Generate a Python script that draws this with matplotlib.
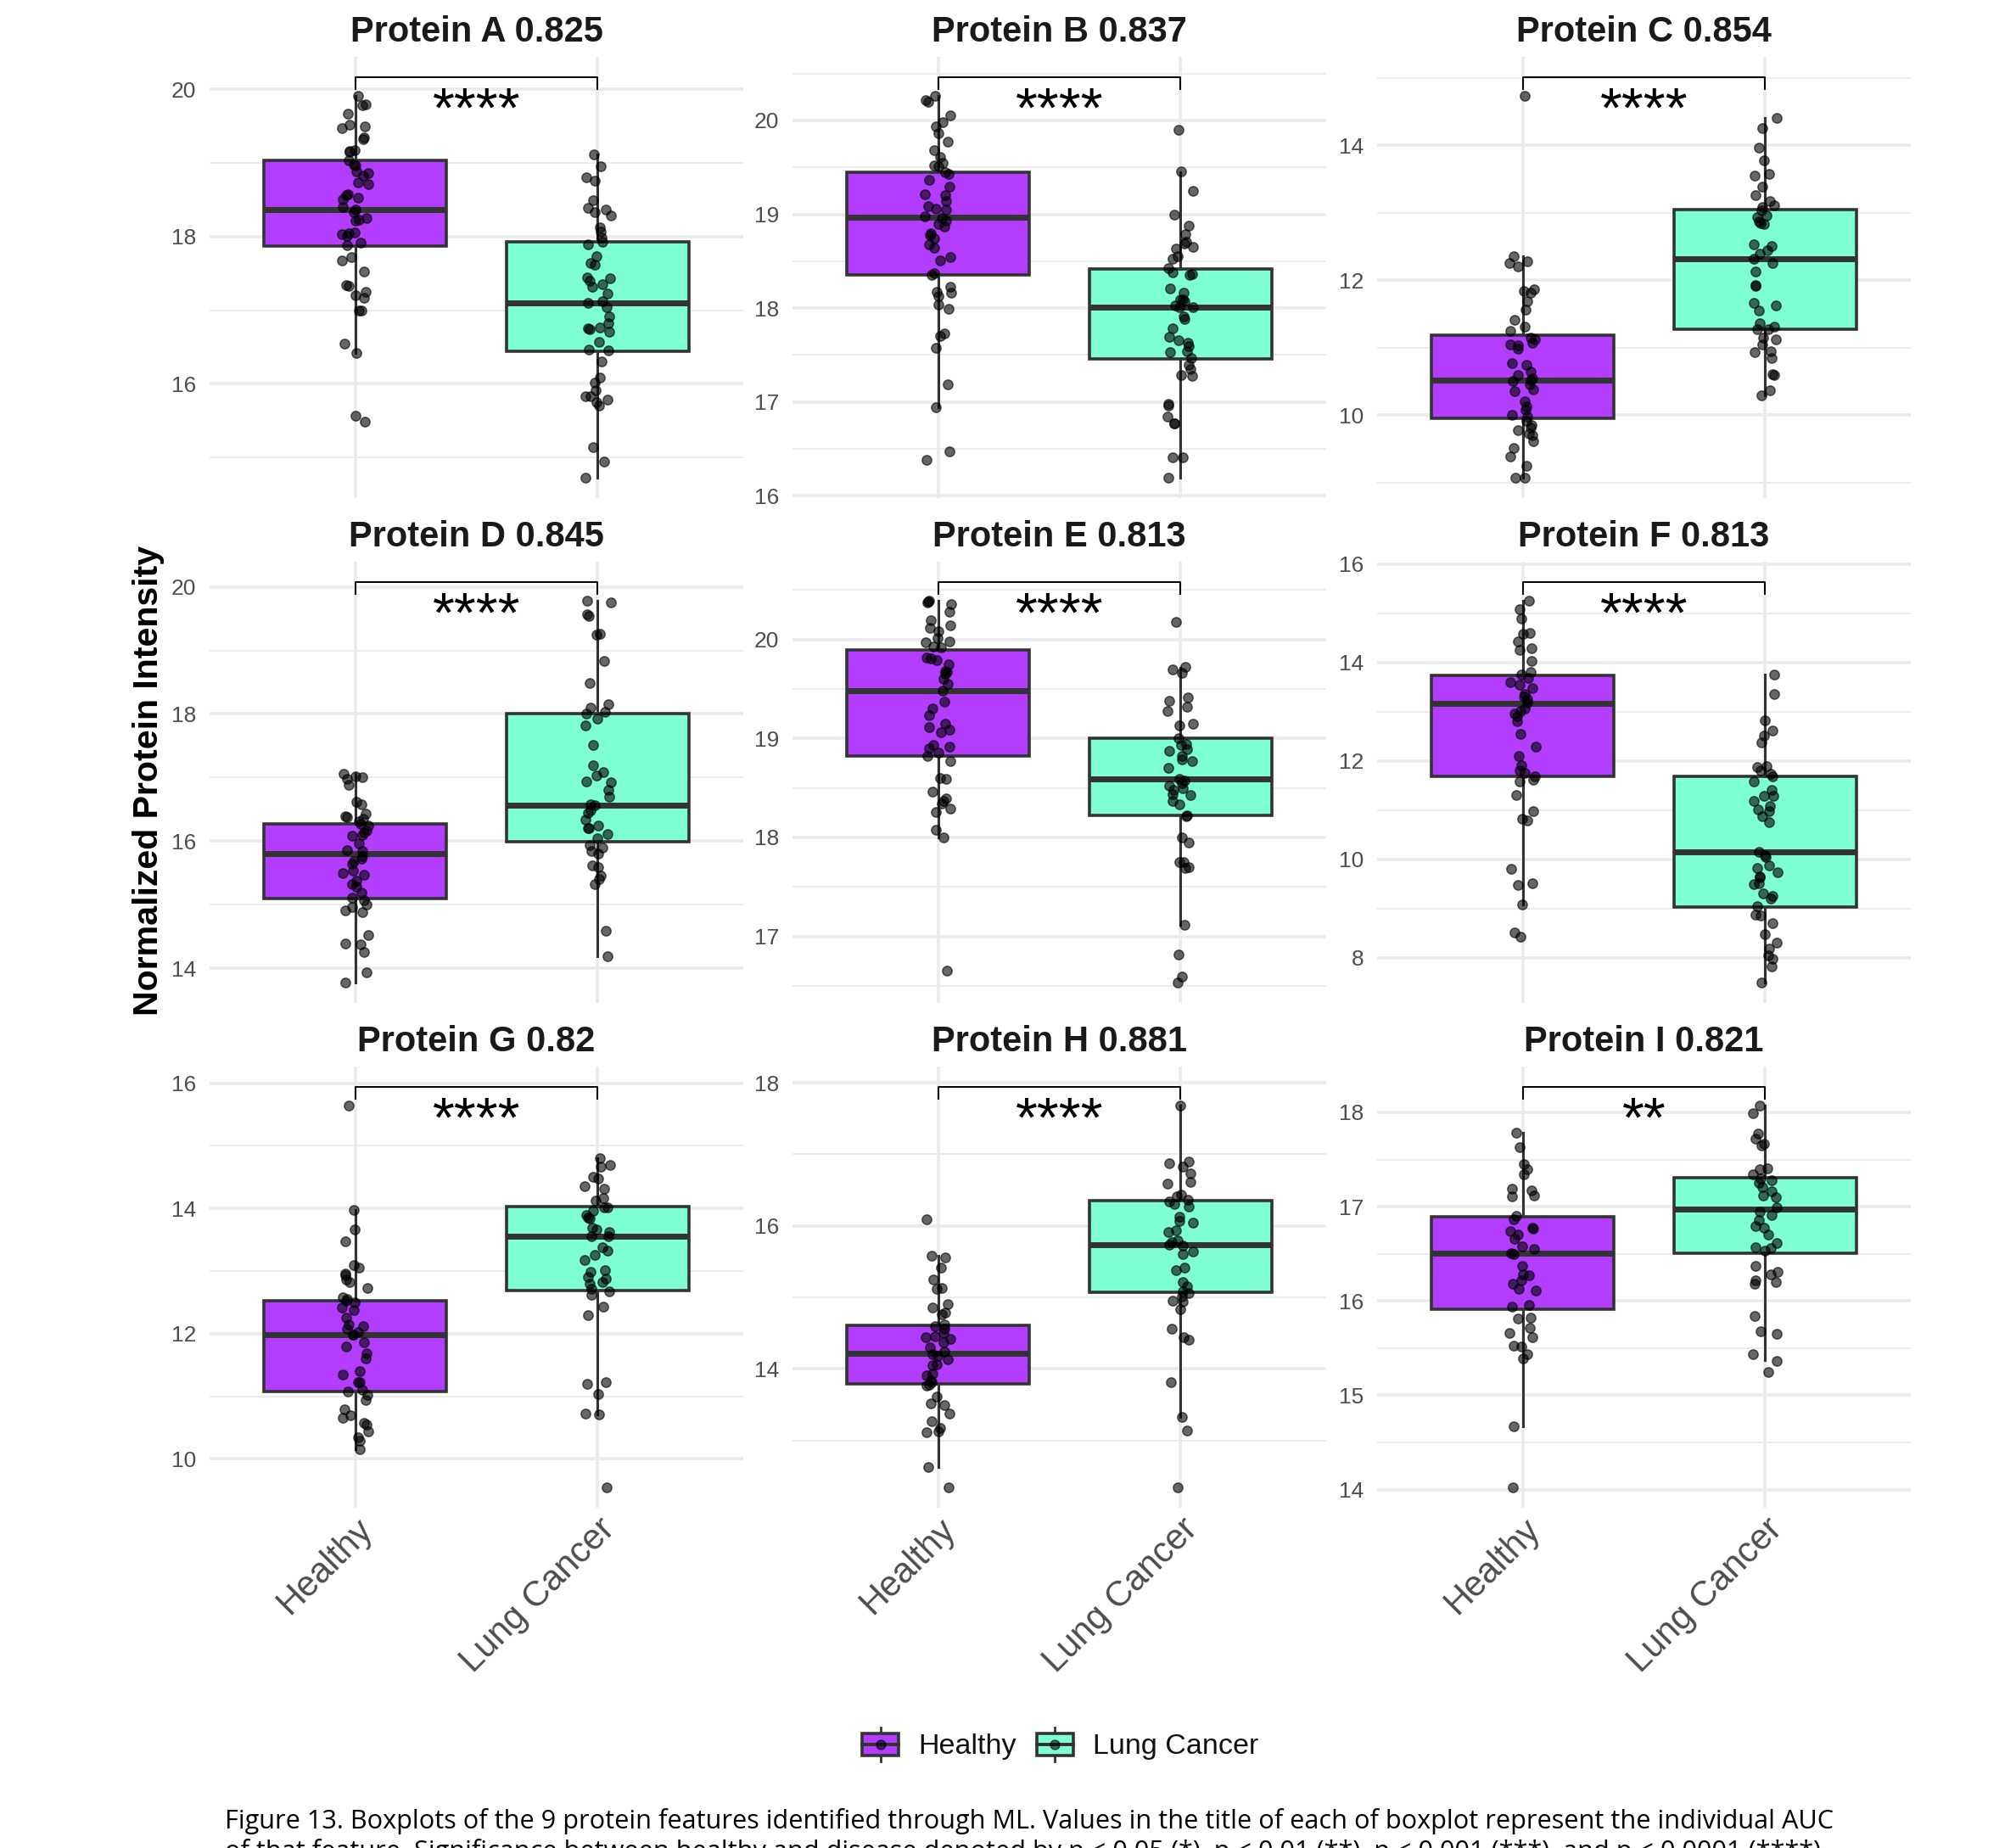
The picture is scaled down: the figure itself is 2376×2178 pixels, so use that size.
import numpy as np
import matplotlib
matplotlib.use("Agg")
import matplotlib.pyplot as plt
from matplotlib.patches import Rectangle
from matplotlib.lines import Line2D
from matplotlib.legend_handler import HandlerBase
from matplotlib.ticker import MultipleLocator, FormatStrFormatter
import matplotlib.transforms as mtransforms

plt.rcParams["font.family"] = ["Liberation Sans", "DejaVu Sans"]

# ---------------------------------------------------------------- data
proteins = ["A", "B", "C", "D", "E", "F", "G", "H", "I"]
auc = [0.825, 0.837, 0.854, 0.845, 0.813, 0.813, 0.82, 0.881, 0.821]
signif = ["****", "****", "****", "****", "****", "****", "****", "****", "**"]
groups = ["Healthy", "Lung Cancer"]

# individual sample intensities
healthy_A = [19.91, 19.80, 19.78, 19.67, 19.52, 19.50, 19.47, 19.35, 19.32, 19.17, 19.16, 19.15, 19.04, 18.98,
             18.97, 18.89, 18.86, 18.83, 18.74, 18.71, 18.58, 18.56, 18.53, 18.51, 18.40, 18.37, 18.33, 18.25,
             18.23, 18.22, 18.06, 18.04, 18.03, 18.01, 17.92, 17.88, 17.72, 17.67, 17.52, 17.34, 17.33, 17.25,
             17.20, 17.17, 17.00, 17.00, 16.55, 16.42, 15.57, 15.48]
cancer_A = [19.12, 18.96, 18.80, 18.76, 18.49, 18.39, 18.37, 18.33, 18.29, 18.12, 18.07, 17.99, 17.93, 17.89,
            17.73, 17.64, 17.62, 17.44, 17.43, 17.40, 17.35, 17.32, 17.23, 17.12, 17.10, 17.04, 16.91, 16.82,
            16.77, 16.75, 16.74, 16.71, 16.57, 16.46, 16.45, 16.30, 16.09, 16.01, 15.91, 15.83, 15.83, 15.79,
            15.75, 15.70, 15.14, 14.94, 14.72]
healthy_B = [20.26, 20.22, 20.20, 20.05, 19.98, 19.94, 19.86, 19.77, 19.68, 19.61, 19.55, 19.52, 19.51, 19.45,
             19.43, 19.37, 19.29, 19.21, 19.20, 19.14, 19.09, 19.06, 19.05, 18.98, 18.96, 18.93, 18.90, 18.87,
             18.80, 18.78, 18.74, 18.68, 18.64, 18.54, 18.51, 18.37, 18.35, 18.23, 18.17, 18.16, 18.13, 18.04,
             17.99, 17.73, 17.70, 17.58, 17.19, 16.94, 16.47, 16.38]
cancer_B = [19.90, 19.46, 19.25, 19.00, 18.88, 18.79, 18.71, 18.69, 18.65, 18.63, 18.55, 18.53, 18.43, 18.38,
            18.36, 18.35, 18.21, 18.16, 18.09, 18.09, 18.07, 18.03, 18.01, 18.01, 17.91, 17.88, 17.78, 17.69,
            17.66, 17.63, 17.59, 17.54, 17.53, 17.47, 17.40, 17.35, 17.29, 17.28, 16.98, 16.96, 16.84, 16.77,
            16.77, 16.41, 16.41, 16.19]
healthy_C = [14.73, 12.36, 12.28, 12.26, 12.20, 11.87, 11.84, 11.81, 11.69, 11.56, 11.41, 11.31, 11.25, 11.15,
             11.13, 11.07, 11.05, 11.04, 10.99, 10.77, 10.75, 10.64, 10.59, 10.55, 10.52, 10.51, 10.46, 10.38,
             10.36, 10.21, 10.13, 10.08, 10.00, 9.98, 9.92, 9.85, 9.82, 9.78, 9.73, 9.70, 9.61, 9.51, 9.39,
             9.25, 9.07, 9.07]
cancer_C = [14.40, 14.26, 13.97, 13.78, 13.58, 13.55, 13.39, 13.26, 13.17, 13.11, 13.09, 13.04, 12.96, 12.94,
            12.87, 12.84, 12.83, 12.53, 12.51, 12.44, 12.39, 12.32, 12.26, 12.13, 11.93, 11.92, 11.67, 11.63,
            11.55, 11.36, 11.31, 11.28, 11.27, 11.15, 11.13, 11.05, 10.95, 10.93, 10.85, 10.61, 10.59, 10.37,
            10.30]
healthy_D = [17.06, 17.02, 17.01, 16.98, 16.89, 16.62, 16.58, 16.43, 16.39, 16.38, 16.35, 16.31, 16.27, 16.25,
             16.17, 16.14, 16.10, 16.08, 15.96, 15.86, 15.84, 15.76, 15.73, 15.68, 15.65, 15.54, 15.50, 15.47,
             15.38, 15.32, 15.28, 15.19, 15.11, 15.07, 15.00, 14.96, 14.91, 14.88, 14.52, 14.39, 14.37, 14.25,
             13.94, 13.77]
cancer_D = [19.78, 19.76, 19.57, 19.54, 19.26, 19.25, 18.84, 18.49, 18.15, 18.10, 18.03, 18.01, 17.92, 17.82,
            17.51, 17.19, 17.08, 17.03, 16.94, 16.92, 16.80, 16.70, 16.58, 16.56, 16.49, 16.45, 16.34, 16.25,
            16.21, 16.20, 16.11, 16.04, 15.94, 15.90, 15.84, 15.81, 15.62, 15.59, 15.46, 15.40, 15.33, 14.59,
            14.19]
healthy_E = [20.39, 20.38, 20.37, 20.36, 20.28, 20.19, 20.14, 20.12, 20.08, 20.01, 19.98, 19.97, 19.93, 19.92,
             19.82, 19.81, 19.79, 19.75, 19.68, 19.67, 19.65, 19.60, 19.55, 19.48, 19.37, 19.30, 19.23, 19.15,
             19.11, 19.09, 19.06, 18.93, 18.92, 18.90, 18.86, 18.82, 18.77, 18.60, 18.59, 18.46, 18.39, 18.37,
             18.34, 18.29, 18.26, 18.08, 18.00, 16.65]
cancer_E = [20.18, 19.72, 19.70, 19.66, 19.41, 19.38, 19.32, 19.28, 19.15, 19.13, 19.00, 18.94, 18.93, 18.89,
            18.87, 18.82, 18.79, 18.77, 18.70, 18.59, 18.57, 18.55, 18.52, 18.50, 18.48, 18.44, 18.43, 18.37,
            18.33, 18.22, 18.21, 18.00, 17.95, 17.75, 17.75, 17.70, 17.69, 17.12, 16.82, 16.59, 16.53]
healthy_F = [15.25, 15.08, 14.89, 14.59, 14.58, 14.43, 14.28, 14.25, 14.03, 13.81, 13.75, 13.68, 13.59, 13.55,
             13.47, 13.35, 13.30, 13.25, 13.18, 13.07, 13.01, 12.96, 12.91, 12.81, 12.55, 12.29, 12.09, 11.91,
             11.80, 11.75, 11.68, 11.61, 11.58, 11.31, 10.98, 10.83, 10.78, 9.81, 9.51, 9.48, 9.09, 8.51, 8.43]
cancer_F = [13.76, 13.35, 12.83, 12.61, 12.51, 12.38, 11.89, 11.88, 11.80, 11.73, 11.68, 11.58, 11.41, 11.29,
            11.28, 11.18, 11.09, 11.01, 10.98, 10.87, 10.76, 10.15, 10.09, 10.05, 9.87, 9.83, 9.73, 9.65, 9.63,
            9.51, 9.49, 9.31, 9.25, 9.21, 9.05, 8.87, 8.85, 8.71, 8.48, 8.31, 8.18, 8.05, 7.98, 7.83, 7.49]
healthy_G = [15.64, 13.98, 13.67, 13.48, 13.09, 13.05, 12.96, 12.93, 12.86, 12.83, 12.73, 12.58, 12.55, 12.53,
             12.50, 12.42, 12.38, 12.25, 12.15, 12.12, 12.08, 12.02, 11.99, 11.98, 11.86, 11.79, 11.68, 11.61,
             11.40, 11.35, 11.23, 11.22, 11.10, 11.07, 11.02, 10.94, 10.79, 10.69, 10.66, 10.58, 10.55, 10.44,
             10.34, 10.29, 10.16]
cancer_G = [14.80, 14.70, 14.66, 14.51, 14.48, 14.35, 14.32, 14.17, 14.12, 14.02, 14.01, 13.96, 13.90, 13.86,
            13.84, 13.69, 13.67, 13.62, 13.56, 13.55, 13.38, 13.32, 13.26, 13.18, 13.01, 12.99, 12.91, 12.88,
            12.83, 12.80, 12.71, 12.67, 12.62, 12.43, 12.29, 11.23, 11.20, 11.03, 10.73, 10.71, 9.54]
healthy_H = [16.09, 15.58, 15.56, 15.42, 15.25, 15.13, 15.12, 14.91, 14.86, 14.79, 14.76, 14.62, 14.60, 14.56,
             14.50, 14.46, 14.44, 14.42, 14.37, 14.30, 14.24, 14.21, 14.18, 14.14, 14.07, 14.05, 13.93, 13.91,
             13.84, 13.82, 13.78, 13.77, 13.61, 13.52, 13.49, 13.38, 13.27, 13.18, 13.13, 13.12, 12.63, 12.35]
cancer_H = [17.68, 16.90, 16.87, 16.83, 16.73, 16.62, 16.59, 16.44, 16.41, 16.36, 16.34, 16.30, 16.27, 16.13,
            16.07, 16.04, 15.94, 15.92, 15.80, 15.77, 15.74, 15.72, 15.64, 15.61, 15.42, 15.38, 15.22, 15.15,
            15.09, 15.06, 15.01, 14.95, 14.94, 14.83, 14.56, 14.44, 14.41, 13.82, 13.33, 13.14, 12.34]
healthy_I = [17.78, 17.63, 17.45, 17.40, 17.34, 17.19, 17.17, 17.12, 17.11, 16.90, 16.87, 16.78, 16.77, 16.74,
             16.70, 16.66, 16.58, 16.55, 16.51, 16.50, 16.37, 16.28, 16.27, 16.22, 16.18, 16.13, 16.11, 15.96,
             15.94, 15.82, 15.81, 15.71, 15.66, 15.62, 15.53, 15.52, 15.44, 15.39, 14.67, 14.02]
cancer_I = [18.07, 17.99, 17.77, 17.72, 17.67, 17.65, 17.41, 17.40, 17.34, 17.30, 17.28, 17.25, 17.21, 17.16,
            17.12, 17.10, 16.99, 16.95, 16.91, 16.86, 16.79, 16.78, 16.70, 16.61, 16.57, 16.56, 16.53, 16.37,
            16.31, 16.28, 16.22, 16.20, 16.18, 15.84, 15.68, 15.65, 15.44, 15.36, 15.25]

# box summaries per protein (whisker low, Q1, median, Q3, whisker high)
healthy_whislo = [16.42, 16.94, 9.07, 13.77, 18.00, 9.09, 10.16, 12.63, 14.67]
healthy_q1 = [17.87, 18.35, 9.95, 15.10, 18.82, 11.69, 11.07, 13.79, 15.91]
healthy_med = [18.37, 18.97, 10.52, 15.80, 19.48, 13.16, 11.99, 14.22, 16.51]
healthy_q3 = [19.04, 19.45, 11.19, 16.27, 19.89, 13.73, 12.53, 14.61, 16.89]
healthy_whishi = [19.91, 20.26, 12.36, 17.06, 20.39, 15.25, 13.98, 15.58, 17.78]
cancer_whislo = [14.72, 16.19, 10.30, 14.19, 17.12, 7.49, 10.71, 13.33, 15.37]
cancer_q1 = [16.44, 17.46, 11.28, 15.99, 18.22, 9.03, 12.69, 15.07, 16.51]
cancer_med = [17.10, 18.01, 12.32, 16.56, 18.59, 10.15, 13.55, 15.74, 16.97]
cancer_q3 = [17.93, 18.42, 13.05, 18.01, 19.00, 11.69, 14.03, 16.35, 17.31]
cancer_whishi = [19.12, 19.45, 14.40, 19.78, 19.71, 13.76, 14.80, 17.68, 18.07]

healthy_points = [healthy_A, healthy_B, healthy_C, healthy_D, healthy_E, healthy_F, healthy_G, healthy_H, healthy_I]
cancer_points = [cancer_A, cancer_B, cancer_C, cancer_D, cancer_E, cancer_F, cancer_G, cancer_H, cancer_I]

# ---------------------------------------------------------------- style
W, H, DPI = 2376, 2178, 100
COL_LEFT = [247, 934, 1623]
ROW_TOP = [67, 662, 1257]
PW, PH = 629, 520
FILL = {"Healthy": "#B33DFF", "Lung Cancer": "#7FFFD4"}
EDGE = "#333333"
GRID = "#EBEBEB"
TICK_COLOR = "#4D4D4D"
y_step = [2, 1, 2, 2, 1, 2, 2, 2, 1]

fig = plt.figure(figsize=(W / DPI, H / DPI), dpi=DPI)
fig.patch.set_facecolor("white")
rng = np.random.default_rng(7)

for i, prot in enumerate(proteins):
    r, c = divmod(i, 3)
    ax = fig.add_axes([COL_LEFT[c] / W, 1 - (ROW_TOP[r] + PH) / H, PW / W, PH / H])
    h = np.asarray(healthy_points[i])
    k = np.asarray(cancer_points[i])

    lo = min(h.min(), k.min())
    hi = max(h.max(), k.max())
    bracket = hi + 0.05 * (hi - lo)
    span = bracket - lo
    tip = 0.03 * span

    stats = [
        dict(whislo=healthy_whislo[i], q1=healthy_q1[i], med=healthy_med[i], q3=healthy_q3[i],
             whishi=healthy_whishi[i], label=groups[0]),
        dict(whislo=cancer_whislo[i], q1=cancer_q1[i], med=cancer_med[i], q3=cancer_q3[i],
             whishi=cancer_whishi[i], label=groups[1]),
    ]
    bp = ax.bxp(stats, positions=[1, 2], widths=0.75, patch_artist=True, showfliers=False,
                showcaps=False, manage_ticks=False,
                boxprops=dict(edgecolor=EDGE, linewidth=2.6),
                medianprops=dict(color=EDGE, linewidth=5.0, solid_capstyle="butt"),
                whiskerprops=dict(color=EDGE, linewidth=2.2))
    for patch, g in zip(bp["boxes"], groups):
        patch.set_facecolor(FILL[g])

    # jittered samples
    for pos, vals in ((1, h), (2, k)):
        xj = pos + rng.uniform(-0.055, 0.055, len(vals))
        ax.scatter(xj, vals, s=66, c="black", alpha=0.6, edgecolors="black",
                   linewidths=1.1, zorder=4)

    # significance bracket
    ax.plot([1, 1, 2, 2], [bracket - tip, bracket, bracket, bracket - tip],
            color="black", linewidth=1.4, zorder=5, clip_on=False)
    blend = mtransforms.blended_transform_factory(ax.transData, ax.transAxes)
    ax.text(1.5, 0.841, signif[i], transform=blend, ha="center", va="baseline",
            fontsize=48, color="black")

    ax.set_ylim(lo - 0.05 * span, bracket + 0.05 * span)
    ax.set_xlim(0.4, 2.6)

    # grid
    ax.set_axisbelow(True)
    ax.yaxis.set_major_locator(MultipleLocator(y_step[i]))
    ax.yaxis.set_minor_locator(MultipleLocator(y_step[i] / 2))
    ax.yaxis.set_major_formatter(FormatStrFormatter("%g"))
    ax.set_xticks([1, 2])
    ax.grid(which="major", axis="both", color=GRID, linewidth=2.6)
    ax.grid(which="minor", axis="y", color=GRID, linewidth=1.3)
    for s in ax.spines.values():
        s.set_visible(False)

    ax.set_title(f"Protein {prot} {auc[i]}", fontsize=30, fontweight="bold",
                 color="#1A1A1A", pad=13)
    ax.tick_params(axis="both", which="both", length=0)
    ax.tick_params(axis="y", labelsize=19, labelcolor=TICK_COLOR, pad=11.5)
    if r == 2:
        ax.set_xticklabels(groups, rotation=45, ha="right", va="top",
                           rotation_mode="anchor", fontsize=30, color=TICK_COLOR)
        ax.tick_params(axis="x", pad=4)
    else:
        ax.set_xticklabels([])

fig.text(175 / W, 1 - 920 / H, "Normalized Protein Intensity", rotation=90,
         ha="center", va="center", fontsize=29.6, fontweight="bold", color="black")


# ---------------------------------------------------------------- legend
class BoxKey(HandlerBase):
    def create_artists(self, legend, orig_handle, xdescent, ydescent, width, height,
                       fontsize, trans):
        x0, y0 = -xdescent, -ydescent
        cx = x0 + width / 2
        b0, b1 = y0 + height * 0.17, y0 + height * 0.83
        mid = y0 + height / 2
        lw_lo = Line2D([cx, cx], [y0, b0], color=EDGE, linewidth=2.0, transform=trans)
        lw_hi = Line2D([cx, cx], [b1, y0 + height], color=EDGE, linewidth=2.0, transform=trans)
        box = Rectangle((x0, b0), width, b1 - b0, facecolor=orig_handle.get_facecolor(),
                        edgecolor=EDGE, linewidth=2.6, transform=trans)
        med = Line2D([x0, x0 + width], [mid, mid], color=EDGE, linewidth=2.8, transform=trans)
        dot = Line2D([cx], [mid], marker="o", markersize=8, linestyle="none",
                     markerfacecolor=(0, 0, 0, 0.6), markeredgecolor=(0, 0, 0, 0.6),
                     markeredgewidth=1.0, transform=trans)
        return [lw_lo, lw_hi, box, med, dot]


handles = [Rectangle((0, 0), 1, 1, facecolor=FILL[g]) for g in groups]
fig.legend(handles, groups, loc="center", bbox_to_anchor=(1250 / W, 1 - 2056 / H), ncol=2,
           frameon=False, fontsize=24.5, handler_map={Rectangle: BoxKey()},
           handlelength=1.25, handleheight=1.45, handletextpad=0.7, columnspacing=0.7,
           labelcolor="#111111")

# ---------------------------------------------------------------- caption
cap_lines = [
    "Figure 13. Boxplots of the 9 protein features identified through ML. Values in the title of each of "
    "boxplot represent the individual AUC",
    "of that feature. Significance between healthy and disease denoted by p < 0.05 (*), p < 0.01 (**), "
    "p < 0.001 (***), and p < 0.0001 (****).",
]
cap1 = fig.text(265 / W, 1 - 2155 / H, cap_lines[0], ha="left", va="baseline",
                fontsize=18, family="Open Sans", color="black")
cap2 = fig.text(265 / W, 1 - 2191 / H, cap_lines[1], ha="left", va="baseline",
                fontsize=18, family="Open Sans", color="black")
fig.canvas.draw()
width_now = cap1.get_window_extent().width
fs = 18 * 1891 / width_now
cap1.set_fontsize(fs)
cap2.set_fontsize(fs)

fig.savefig("out.png", dpi=DPI, facecolor="white")
